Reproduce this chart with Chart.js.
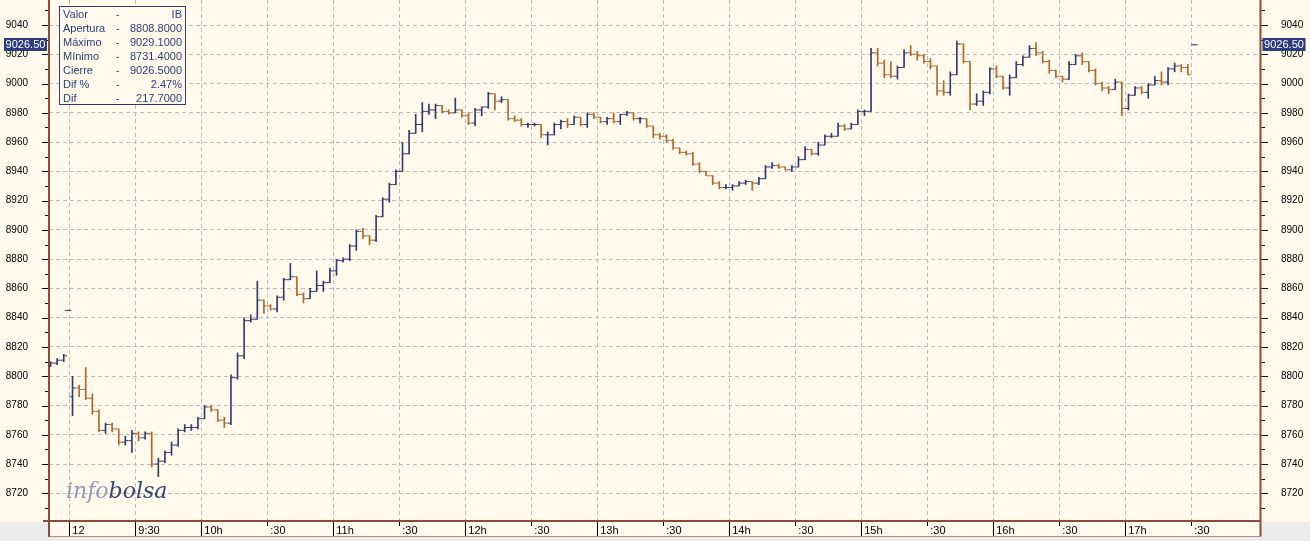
<!DOCTYPE html>
<html><head><meta charset="utf-8">
<script src="https://cdn.jsdelivr.net/npm/chart.js@4/dist/chart.umd.min.js"></script>
<style>html,body{margin:0;padding:0;background:#FFFAEB;overflow:hidden}</style>
</head><body>
<canvas id="c" width="1310" height="541"></canvas>
<script>
// ---- DATA (bar start times, OHLC) ----
const barStarts = [
 "8:50","8:53","8:56","8:58",
 "9:00","9:03","9:06","9:09","9:12","9:15","9:18","9:21","9:24","9:27","9:30","9:33","9:36","9:39","9:42","9:45","9:48","9:51","9:54","9:57",
 "10:00","10:03","10:06","10:09","10:12","10:15","10:18","10:21","10:24","10:27","10:30","10:33","10:36","10:39","10:42","10:45","10:48","10:51","10:54","10:57",
 "11:00","11:03","11:06","11:09","11:12","11:15","11:18","11:21","11:24","11:27","11:30","11:33","11:36","11:39","11:42","11:45","11:48","11:51","11:54","11:57",
 "12:00","12:03","12:06","12:09","12:12","12:15","12:18","12:21","12:24","12:27","12:30","12:33","12:36","12:39","12:42","12:45","12:48","12:51","12:54","12:57",
 "13:00","13:03","13:06","13:09","13:12","13:15","13:18","13:21","13:24","13:27","13:30","13:33","13:36","13:39","13:42","13:45","13:48","13:51","13:54","13:57",
 "14:00","14:03","14:06","14:09","14:12","14:15","14:18","14:21","14:24","14:27","14:30","14:33","14:36","14:39","14:42","14:45","14:48","14:51","14:54","14:57",
 "15:00","15:03","15:06","15:09","15:12","15:15","15:18","15:21","15:24","15:27","15:30","15:33","15:36","15:39","15:42","15:45","15:48","15:51","15:54","15:57",
 "16:00","16:03","16:06","16:09","16:12","16:15","16:18","16:21","16:24","16:27","16:30","16:33","16:36","16:39","16:42","16:45","16:48","16:51","16:54","16:57",
 "17:00","17:03","17:06","17:09","17:12","17:15","17:18","17:21","17:24","17:27",
 "17:30"
];
const opens = [
 8808.8,8809,8811,8845,
 8786,8792,8791,8785,8776,8763,8767,8764,8755,8756,8761,8758,8761,8740,8742,8748,8753,8763,8765,8765,
 8771,8779,8777,8770,8768,8799,8814,8838,8839,8852,8848,8846,8854,8866,8868,8856,8853,8858,8862,8864,
 8872,8879,8880,8889,8899,8896,8893,8909,8921,8931,8940,8952,8966,8972,8981,8982,8985,8981,8980,8982,
 8978,8973,8982,8984,8993,8988,8989,8976,8975,8972,8972,8972,8965,8965,8972,8974,8972,8977,8972,8979,
 8977,8974,8976,8974,8979,8980,8976,8976,8971,8965,8964,8961,8956,8953,8952,8945,8940,8937,8932,8929,
 8929,8930,8932,8933,8932,8935,8943,8944,8943,8941,8943,8948,8955,8952,8958,8964,8964,8971,8969,8972,
 8981,8981,9021,9014,9006,9005,9011,9021,9020,9019,9015,9012,8995,8994,9006,9027,9015,8986,8988,8994,
 9010,9005,8997,9004,9013,9018,9024,9021,9015,9009,9005,9003,9013,9019,9015,9009,9000,8997,8996,9001,
 8983,8992,8997,8994,8999,9002,9001,9010,9012,9011,
 9026.5
];
const highs = [
 8810,8812,8815,8845,
 8800,8794,8806,8788,8777,8768,8768,8764,8759,8763,8762,8762,8762,8744,8749,8755,8764,8767,8767,8772,
 8780,8780,8777,8772,8801,8816,8840,8842,8865,8852,8849,8855,8867,8877,8868,8857,8860,8872,8865,8874,
 8880,8881,8890,8900,8901,8896,8910,8922,8932,8941,8960,8968,8979,8987,8986,8986,8985,8982,8990,8982,
 8980,8983,8984,8994,8993,8991,8989,8978,8976,8973,8973,8972,8967,8973,8975,8976,8978,8977,8980,8980,
 8977,8977,8980,8979,8981,8980,8977,8976,8971,8966,8965,8962,8956,8954,8953,8946,8940,8937,8933,8931,
 8931,8933,8934,8933,8936,8944,8946,8945,8943,8944,8950,8957,8955,8960,8965,8966,8973,8972,8973,8982,
 8982,9024,9024,9016,9015,9012,9023,9026,9022,9020,9017,9012,9002,9008,9029.1,9027,9015,8993,8995,9011,
 9012,9005,9006,9015,9019,9026,9028,9022,9016,9009,9005,9015,9020,9021,9015,9010,9001,8998,9003,9001,
 8993,8998,8998,9000,9005,9008,9011,9014,9013,9013,
 9026.5
];
const lows = [
 8806.5,8808,8810,8845,
 8773,8786,8784,8774,8762,8761,8762,8753,8753,8748,8756,8757,8738,8731.4,8741,8746,8752,8762,8763,8764,
 8771,8776,8769,8765,8767,8798,8812,8837,8839,8843,8845,8844,8852,8866,8855,8850,8853,8858,8858,8864,
 8869,8878,8879,8886,8894,8890,8892,8909,8919,8931,8940,8952,8966,8967,8979,8976,8980,8979,8980,8977,
 8972,8971,8978,8983,8982,8987,8975,8974,8971,8970,8971,8963,8958,8965,8969,8970,8972,8971,8970,8976,
 8973,8972,8973,8972,8978,8975,8973,8970,8963,8962,8960,8955,8952,8951,8944,8939,8937,8931,8928,8928,
 8927,8930,8931,8927,8931,8935,8942,8942,8941,8940,8943,8948,8951,8951,8958,8963,8964,8968,8969,8972,
 8978,8981,9012,9004,9004,9003,9011,9019,9016,9014,9010,8992,8992,8992,9006,9014,8982,8985,8985,8993,
 9004,8996,8992,9004,9012,9018,9019,9014,9007,9004,9001,9003,9013,9013,9008,8999,8995,8993,8996,8978,
 8982,8992,8993,8990,8999,8999,8999,9008,9008,9006,
 9026.5
];
const closes = [
 8809,8811,8814,8845,
 8792,8791,8785,8776,8763,8767,8764,8755,8756,8761,8758,8761,8740,8742,8748,8753,8763,8765,8765,8771,
 8779,8777,8770,8768,8799,8814,8838,8839,8852,8848,8846,8854,8866,8868,8856,8853,8858,8862,8864,8872,
 8879,8880,8889,8899,8896,8893,8909,8921,8931,8940,8952,8966,8972,8981,8982,8985,8981,8980,8982,8978,
 8973,8982,8984,8993,8988,8989,8976,8975,8972,8972,8972,8965,8965,8972,8974,8972,8977,8972,8979,8977,
 8974,8976,8974,8979,8980,8976,8976,8971,8965,8964,8961,8956,8953,8952,8945,8940,8937,8932,8929,8929,
 8930,8932,8933,8932,8935,8943,8944,8943,8941,8943,8948,8955,8952,8958,8964,8964,8971,8969,8972,8981,
 8981,9021,9014,9006,9005,9011,9021,9020,9019,9015,9012,8995,8994,9006,9027,9015,8986,8988,8994,9010,
 9005,8997,9004,9013,9018,9024,9021,9015,9009,9005,9003,9013,9019,9015,9009,9000,8997,8996,9001,8983,
 8992,8997,8994,8999,9002,9001,9010,9012,9011,9006,
 9026.5
];
const xTickTimes  = ["9:00","9:30","10:00","10:30","11:00","11:30","12:00","12:30","13:00","13:30","14:00","14:30","15:00","15:30","16:00","16:30","17:00","17:30"];
const xTickLabels = ["12","9:30","10h",":30","11h",":30","12h",":30","13h",":30","14h",":30","15h",":30","16h",":30","17h",":30"];
const infoRows = [["Valor","IB"],["Apertura","8808.8000"],["Máximo","9029.1000"],["Mínimo","8731.4000"],["Cierre","9026.5000"],["Dif %","2.47%"],["Dif","217.7000"]];
const lastPrice = 9026.50;
const lastPriceLabel = "9026.50";

// ---- STYLE ----
const BG = '#FFFAEB', UP = '#343c6e', DOWN = '#b0672f', GRID = '#bcbcbc', FRAME = '#8c4a3a', NAVY = '#2c3c7c';
const toMin = s => { const p = s.split(':').map(Number); return p[0]*60 + p[1]; };
const BAR_HALF = 1.5; // bar centre offset (minutes)
const xs = barStarts.map(s => toMin(s) + BAR_HALF);
const cols = opens.map((o,i) => closes[i] >= o ? UP : DOWN);

Chart.defaults.font.family = '"Liberation Sans", Arial, sans-serif';
Chart.defaults.color = '#000';

const decor = {
  id: 'decor',
  beforeDraw(chart) {
    const c = chart.ctx, a = chart.chartArea;
    c.save();
    c.fillStyle = BG; c.fillRect(0, 0, chart.width, chart.height);
    c.fillStyle = '#ececec';
    c.fillRect(0, a.bottom + 1, a.left - 1, chart.height);
    c.fillRect(a.right + 1, a.bottom + 1, chart.width, chart.height);
    c.fillRect(0, a.bottom + 16, chart.width, chart.height);
    c.restore();
  },
  beforeDatasetsDraw(chart) {
    const c = chart.ctx, a = chart.chartArea;
    c.save();
    c.font = 'italic 22px "DejaVu Serif", serif';
    c.textBaseline = 'alphabetic';
    const x0 = a.left + 17, y0 = a.bottom - 23;
    c.fillStyle = '#8e99b6'; c.fillText('info', x0, y0);
    const w = c.measureText('info').width;
    c.fillStyle = '#34466f'; c.fillText('bolsa', x0 + w, y0);
    c.restore();
  },
  afterDatasetsDraw(chart) {
    const c = chart.ctx, a = chart.chartArea, sx = chart.scales.x, sy = chart.scales.y;
    c.save();
    // frame
    c.strokeStyle = FRAME; c.lineWidth = 2;
    c.beginPath();
    c.moveTo(a.left, 0); c.lineTo(a.left, a.bottom + 16);
    c.moveTo(a.right + 0.5, 0); c.lineTo(a.right + 0.5, a.bottom + 16);
    c.moveTo(a.left - 6, a.bottom); c.lineTo(a.right + 1, a.bottom);
    c.stroke();
    c.lineWidth = 1; c.strokeStyle = '#b58a7c';
    c.beginPath(); c.moveTo(a.left, a.bottom + 15.5); c.lineTo(a.right + 1, a.bottom + 15.5); c.stroke();
    // y tick marks
    c.strokeStyle = '#000'; c.lineWidth = 1;
    c.beginPath();
    sy.ticks.forEach(t => {
      const y = Math.round(sy.getPixelForValue(t.value)) + 0.5;
      const major = t.value % 20 === 0;
      c.moveTo(a.left - (major ? 7 : 4), y); c.lineTo(a.left - 1, y);
      c.moveTo(a.right + 1.5, y); c.lineTo(a.right + (major ? 8 : 5), y);
    });
    c.stroke();
    // x tick marks
    c.beginPath();
    sx.ticks.forEach((t, i) => {
      const x = Math.round(sx.getPixelForValue(t.value)) + 0.5;
      const full = xTickLabels[i].indexOf(':30') !== 0;
      c.moveTo(x, a.bottom + 1); c.lineTo(x, a.bottom + (full ? 15 : 5));
    });
    c.stroke();
    // price boxes
    const py = sy.getPixelForValue(lastPrice);
    c.font = '11px "Liberation Sans", Arial, sans-serif';
    c.textBaseline = 'middle'; c.textAlign = 'center';
    [[4, 43], [a.right + 2.5, 43]].forEach(([bx, bw]) => {
      c.fillStyle = NAVY; c.fillRect(bx, Math.round(py) - 7, bw, 13);
      c.fillStyle = '#fff'; c.fillText(lastPriceLabel, bx + bw / 2, Math.round(py));
    });
    // info box
    const bx = a.left + 10.5, by = 6.5, bw = 126, bh = 98;
    c.fillStyle = BG; c.fillRect(bx, by, bw, bh);
    c.strokeStyle = NAVY; c.lineWidth = 1; c.strokeRect(bx, by, bw, bh);
    c.fillStyle = NAVY; c.textBaseline = 'middle';
    infoRows.forEach((r, i) => {
      const ry = by + 8 + i * 14;
      c.textAlign = 'left'; c.fillText(r[0], bx + 3.5, ry);
      c.textAlign = 'center'; c.fillText('-', bx + 58, ry);
      c.textAlign = 'right'; c.fillText(r[1], bx + bw - 3.5, ry);
    });
    c.restore();
  }
};

const yCommon = {
  type: 'linear', min: 8701.1, max: 9057.1,
  border: { display: false, dash: [4, 3] },
  ticks: {
    stepSize: 10, includeBounds: false, autoSkip: false, padding: 21,
    font: { size: 10 },
    callback: v => (v % 20 === 0 ? String(v) : '')
  }
};

new Chart(document.getElementById('c'), {
  type: 'bar',
  data: {
    datasets: [
      { type: 'bar', label: 'range', data: xs.map((x, i) => ({ x, y: [lows[i], highs[i]] })),
        backgroundColor: cols, borderWidth: 0, barThickness: 1, order: 2 },
      { type: 'line', label: 'open', data: xs.map((x, i) => ({ x, y: opens[i] })), showLine: false,
        pointStyle: 'dash', pointRadius: 3.3, pointBorderWidth: 1, pointBorderColor: cols, pointBackgroundColor: cols,
        pointRotation: 180, order: 1 },
      { type: 'line', label: 'close', data: xs.map((x, i) => ({ x, y: closes[i] })), showLine: false,
        pointStyle: 'dash', pointRadius: 3.3, pointBorderWidth: 1, pointBorderColor: cols, pointBackgroundColor: cols,
        pointRotation: 0, order: 1 }
    ]
  },
  options: {
    responsive: false, animation: false, devicePixelRatio: 1, events: [],
    layout: { padding: 0, autoPadding: false },
    plugins: { legend: { display: false }, tooltip: { enabled: false } },
    scales: {
      x: {
        type: 'linear', min: 530.8, max: 1081.3, offset: false,
        grid: { color: GRID, drawTicks: false, offset: false },
        border: { display: false, dash: [4, 3] },
        afterBuildTicks: s => { s.ticks = xTickTimes.map(t => ({ value: toMin(t) })); },
        ticks: { autoSkip: false, maxRotation: 0, align: 'start', padding: 3, font: { size: 11 },
                 callback: (v, i) => ' ' + xTickLabels[i] },
        afterFit: s => { s.height = 20; s.paddingLeft = 0; s.paddingRight = 0; }
      },
      y: Object.assign({}, yCommon, {
        position: 'left',
        grid: { drawTicks: false, color: c => (c.tick && c.tick.value % 20 === 0 ? GRID : 'rgba(0,0,0,0)') },
        afterFit: s => { s.width = 49; s.paddingTop = 0; s.paddingBottom = 0; }
      }),
      y2: Object.assign({}, yCommon, {
        position: 'right',
        grid: { drawTicks: false, drawOnChartArea: false },
        afterFit: s => { s.width = 50; s.paddingTop = 0; s.paddingBottom = 0; }
      })
    }
  },
  plugins: [decor]
});
</script>
</body></html>
